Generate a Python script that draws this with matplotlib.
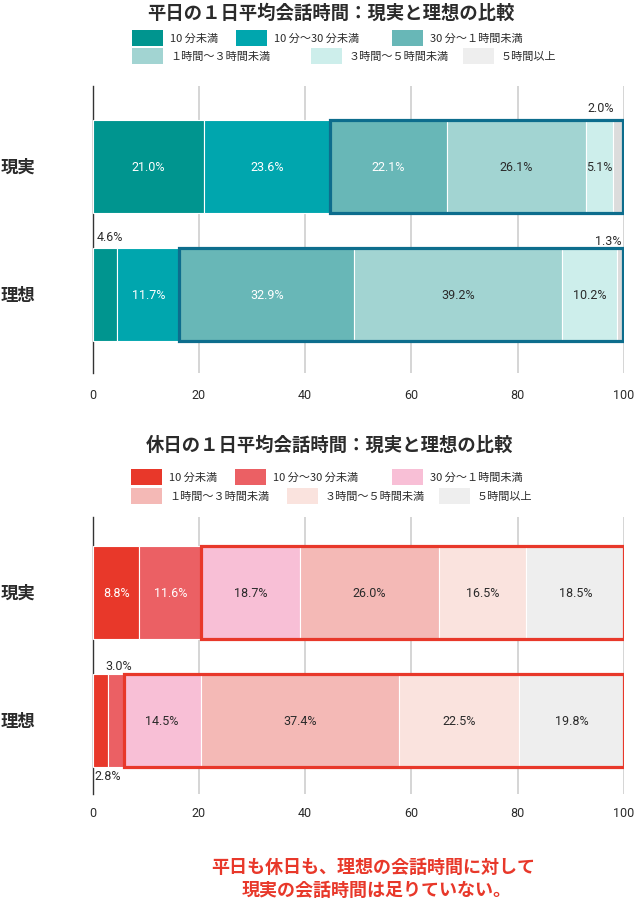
import matplotlib
matplotlib.use('Agg')
import matplotlib.pyplot as plt
from matplotlib.patches import Rectangle
from matplotlib.transforms import blended_transform_factory

# ---------------- data ----------------
categories = ['現実', '理想']
legend_labels = ['10 分未満', '10 分～30 分未満', '30 分～１時間未満',
                 '１時間～３時間未満', '３時間～５時間未満', '５時間以上']
weekday_title = '平日の１日平均会話時間：現実と理想の比較'
holiday_title = '休日の１日平均会話時間：現実と理想の比較'
weekday_values = [[21.0, 23.6, 22.1, 26.1, 5.1, 2.0],
                  [4.6, 11.7, 32.9, 39.2, 10.2, 1.3]]
holiday_values = [[8.8, 11.6, 18.7, 26.0, 16.5, 18.5],
                  [2.8, 3.0, 14.5, 37.4, 22.5, 19.8]]
x_ticks = [0, 20, 40, 60, 80, 100]
note_lines = ['平日も休日も、理想の会話時間に対して', '現実の会話時間は足りていない。']

# ---------------- style ----------------
weekday_colors = ['#00958f', '#00a6ae', '#68b7b7', '#a2d4d2', '#cdeeeb', '#dcdcdc']
weekday_legend_colors = ['#00958f', '#00a6ae', '#68b7b7', '#a2d4d2', '#cdeeeb', '#eeeeee']
holiday_colors = ['#e8382a', '#eb6064', '#f8bfd6', '#f4b9b6', '#fae3de', '#eeeeee']
weekday_outline = '#0d6d8d'
holiday_outline = '#e8382a'
JP = ['Noto Sans CJK JP', 'DejaVu Sans']
NUM = ['Roboto', 'DejaVu Sans']
DARK = '#2b2b2b'

W, H = 636, 903
fig = plt.figure(figsize=(W / 100, H / 100), dpi=100)


def fx(px):
    return px / W


def fy(py):
    return 1 - py / H


def make_axes(top_px, bottom_px):
    left_px, right_px = 92.7, 624
    return fig.add_axes([fx(left_px), fy(bottom_px), (right_px - left_px) / W,
                         (bottom_px - top_px) / H])


def panel(ax, values, colors, n_white, outline_color, outside, ylim, tick_pad):
    bh = 0.72
    for i, row in enumerate(values):
        left = 0
        for j, v in enumerate(row):
            ax.barh(i, v, left=left, height=bh, color=colors[j],
                    edgecolor='white', linewidth=0.8, zorder=3)
            txt = f'{v:.1f}%'
            col = 'white' if j < n_white else DARK
            if (i, j) in outside:
                xpos, dy = outside[(i, j)]
                ax.text(xpos, i + dy, txt, ha='center', va='center', fontsize=9,
                        family=NUM, color=DARK, zorder=6)
            else:
                ax.text(left + v / 2, i, txt, ha='center', va='center',
                        fontsize=9, family=NUM, color=col, zorder=6)
            left += v
        start = sum(row[:2])
        end = min(sum(row), 100)
        ax.add_patch(Rectangle((start, i - bh / 2), end - start, bh, fill=False,
                               edgecolor=outline_color, linewidth=2.3, zorder=5))
    ax.set_xlim(0, 100)
    ax.set_ylim(*ylim)
    ax.set_xticks(x_ticks)
    ax.set_xticklabels([str(t) for t in x_ticks], family=NUM, fontsize=9, color=DARK)
    ax.tick_params(axis='x', length=0, pad=tick_pad)
    ax.set_yticks([])
    for s in ['top', 'right', 'bottom']:
        ax.spines[s].set_visible(False)
    ax.spines['left'].set_color('#333333')
    ax.spines['left'].set_linewidth(1.0)
    ax.xaxis.grid(True, color='#d2d2d2', linewidth=1.3)
    ax.set_axisbelow(True)
    tr = blended_transform_factory(fig.transFigure, ax.transData)
    for i, c in enumerate(categories):
        ax.text(fx(1), i, c, transform=tr, ha='left', va='center', fontsize=12.5,
                fontweight='bold', family=JP, color=DARK)


def legend(patch_xs, row_ys, colors):
    for k, lab in enumerate(legend_labels):
        r = k // 3
        px = patch_xs[k]
        cy = row_ys[r]
        fig.add_artist(Rectangle((fx(px), fy(cy + 8)), 31 / W, 16 / H,
                                 transform=fig.transFigure, facecolor=colors[k],
                                 edgecolor='none'))
        fig.text(fx(px + 38), fy(cy), lab, ha='left', va='center', fontsize=8,
                 family=JP, color=DARK)


# ---------------- weekday panel ----------------
fig.text(fx(331), fy(13), weekday_title, ha='center', va='center', fontsize=13.2,
         fontweight='bold', family=JP, color=DARK)
legend([132, 236, 392, 132, 311, 463], [39, 57], weekday_legend_colors)
ax1 = make_axes(87, 374)
panel(ax1, weekday_values, weekday_colors, 3, weekday_outline,
      {(0, 5): (95.7, -0.46), (1, 0): (3.3, -0.45),
       (1, 5): (97.0, -0.42)},
      (1.613, -0.629), 10.5)

# ---------------- holiday panel ----------------
fig.text(fx(330), fy(445), holiday_title, ha='center', va='center', fontsize=13.2,
         fontweight='bold', family=JP, color=DARK)
legend([131, 235, 392, 131, 287, 439], [478, 497], holiday_colors)
ax2 = make_axes(518, 795)
panel(ax2, holiday_values, holiday_colors, 2, holiday_outline,
      {(1, 0): (2.8, 0.43), (1, 1): (4.9, -0.43)},
      (1.574, -0.590), 9)

# ---------------- note ----------------
fig.text(fx(211), fy(867), note_lines[0], ha='left', va='center', fontsize=13,
         fontweight='bold', family=JP, color='#e8382a')
fig.text(fx(242), fy(890), note_lines[1], ha='left', va='center', fontsize=13,
         fontweight='bold', family=JP, color='#e8382a')

fig.savefig('out.png', dpi=100)
